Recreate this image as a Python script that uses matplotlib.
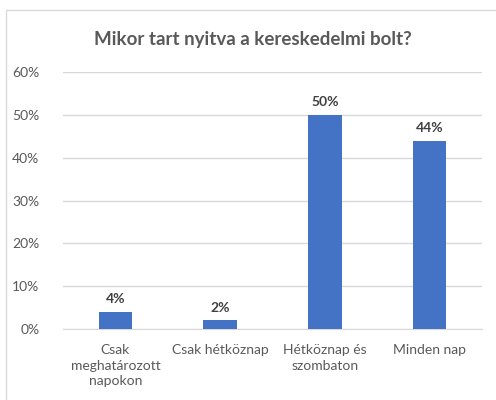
import matplotlib.pyplot as plt
from matplotlib.patches import Rectangle

categories = ['Csak\nmeghatározott\nnapokon', 'Csak hétköznap', 'Hétköznap és\nszombaton', 'Minden nap']
values = [4, 2, 50, 44]
yticks = [0, 10, 20, 30, 40, 50, 60]

plt.rcParams['font.family'] = ['Lato', 'DejaVu Sans']

fig = plt.figure(figsize=(4.96, 4.0), dpi=100)
ax = fig.add_axes([0.127, 0.1775, 0.845, 0.6425])

# chart border
fig.patches.append(Rectangle((6 / 496, -0.01), 1.0, 1 - 10 / 400 + 0.01,
                             transform=fig.transFigure, fill=False,
                             edgecolor='#D9D9D9', linewidth=1))

x = range(len(categories))
ax.bar(x, values, width=0.32, color='#4472C4', zorder=3)

for i, v in zip(x, values):
    ax.text(i, v + 1.5, f'{v}%', ha='center', va='bottom',
            fontsize=10, fontweight='bold', color='#404040')

ax.set_ylim(0, 60)
ax.set_xlim(-0.5, len(categories) - 0.5)
ax.set_yticks(yticks)
ax.set_yticklabels([f'{t}%' for t in yticks])
ax.set_xticks(list(x))
ax.set_xticklabels(categories, linespacing=1.35)
ax.tick_params(axis='both', length=0, labelsize=10, colors='#595959')
ax.tick_params(axis='y', pad=17)
ax.tick_params(axis='x', pad=11)
ax.grid(True, axis='y', color='#D9D9D9', linewidth=1, zorder=0)
for s in ['top', 'right', 'left']:
    ax.spines[s].set_visible(False)
ax.spines['bottom'].set_color('#D9D9D9')

fig.text(0.51, 0.9, 'Mikor tart nyitva a kereskedelmi bolt?', ha='center', va='center',
         fontsize=13.5, fontweight='bold', color='#595959')

fig.savefig('out.png', dpi=100)
